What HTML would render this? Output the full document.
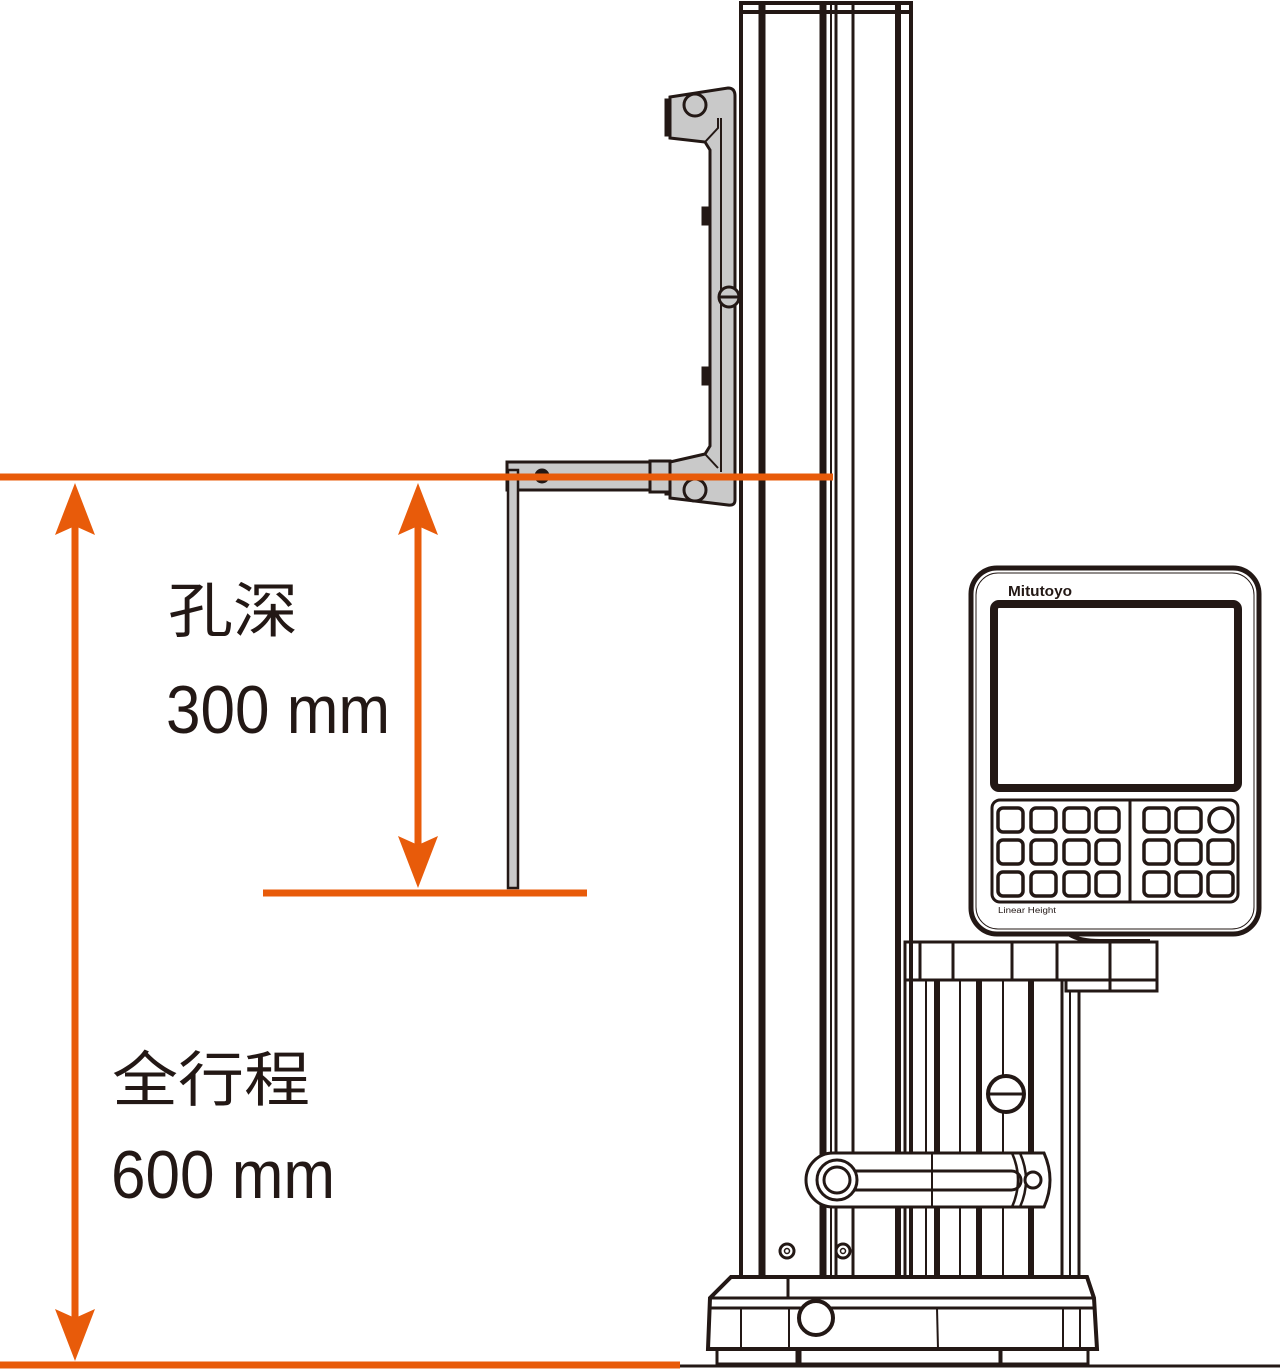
<!DOCTYPE html>
<html><head><meta charset="utf-8"><style>html,body{margin:0;padding:0;background:#fff}svg{display:block}</style></head><body>
<svg width="1280" height="1371" viewBox="0 0 1280 1371" xmlns="http://www.w3.org/2000/svg">
<g fill="none" stroke="#231815" stroke-width="3">
<!-- column -->
<rect x="741" y="3" width="170" height="1274" stroke-width="4"/>
<line x1="741" y1="12" x2="911" y2="12" stroke-width="4"/>
<line x1="762" y1="3" x2="762" y2="1277" stroke-width="7"/>
<line x1="823" y1="3" x2="823" y2="1277" stroke-width="7"/>
<line x1="831" y1="3" x2="831" y2="1277" stroke-width="2"/>
<line x1="836" y1="3" x2="836" y2="1277" stroke-width="3"/>
<line x1="853" y1="3" x2="853" y2="1277" stroke-width="3"/>
<line x1="898" y1="3" x2="898" y2="1277" stroke-width="6"/>
<!-- bracket -->
<path d="M670 97 L728 88 Q735 88 735 96 L735 500 Q735 506 728 505 L670 498 L670 462 L705 454 L710 446 L710 150 L705 142 L670 138 Z" fill="#c9c9c9" stroke-width="3"/>
<rect x="665" y="99" width="6" height="37" fill="#231815" stroke-width="1"/>
<rect x="665" y="463" width="6" height="32" fill="#231815" stroke-width="1"/>
<line x1="721" y1="118" x2="721" y2="472" stroke-width="2"/>
<path d="M705 142 L718 128 L718 118 M705 454 L718 468" stroke-width="2"/>
<circle cx="695" cy="105" r="11" fill="#c9c9c9"/>
<circle cx="695" cy="490" r="11" fill="#c9c9c9"/>
<ellipse cx="729" cy="297" rx="10" ry="10" fill="#c9c9c9"/>
<line x1="719" y1="297" x2="739" y2="297"/>
<rect x="703" y="208" width="6" height="16" fill="#231815"/>
<rect x="703" y="368" width="6" height="16" fill="#231815"/>
<!-- probe arm -->
<rect x="507" y="462" width="150" height="28" fill="#c9c9c9"/>
<rect x="650" y="461" width="20" height="31" fill="#c9c9c9"/>
<circle cx="542" cy="476" r="6" fill="#231815"/>
<rect x="508" y="470" width="10" height="418" fill="#c9c9c9" stroke-width="2.5"/>
<!-- display -->
<rect x="971" y="568" width="288" height="366" rx="26" stroke-width="5"/>
<rect x="976" y="573" width="278" height="356" rx="22" stroke-width="1"/>
<rect x="994" y="604" width="244" height="184" rx="5" stroke-width="8"/>
<rect x="992" y="800" width="246" height="102" rx="8" stroke-width="3"/>
<line x1="1130" y1="800" x2="1130" y2="902" stroke-width="3"/>
<g stroke-width="3.5">
<rect x="998" y="808" width="25" height="24" rx="5"/><rect x="1031" y="808" width="25" height="24" rx="5"/><rect x="1064" y="808" width="25" height="24" rx="5"/><rect x="1096" y="808" width="23" height="24" rx="5"/>
<rect x="998" y="840" width="25" height="24" rx="5"/><rect x="1031" y="840" width="25" height="24" rx="5"/><rect x="1064" y="840" width="25" height="24" rx="5"/><rect x="1096" y="840" width="23" height="24" rx="5"/>
<rect x="998" y="872" width="25" height="24" rx="5"/><rect x="1031" y="872" width="25" height="24" rx="5"/><rect x="1064" y="872" width="25" height="24" rx="5"/><rect x="1096" y="872" width="23" height="24" rx="5"/>
<rect x="1144" y="808" width="25" height="24" rx="5"/><rect x="1176" y="808" width="25" height="24" rx="5"/><circle cx="1221" cy="820" r="12"/>
<rect x="1144" y="840" width="25" height="24" rx="5"/><rect x="1176" y="840" width="25" height="24" rx="5"/><rect x="1208" y="840" width="25" height="24" rx="5"/>
<rect x="1144" y="872" width="25" height="24" rx="5"/><rect x="1176" y="872" width="25" height="24" rx="5"/><rect x="1208" y="872" width="25" height="24" rx="5"/>
</g>
<path d="M1070 935 Q1080 941 1100 941 L1150 941" stroke-width="4"/>
<!-- support block -->
<rect x="905" y="942" width="252" height="38" stroke-width="3"/>
<path d="M1066 980 L1066 991 L1157 991 L1157 980" stroke-width="3"/>
<line x1="920" y1="942" x2="920" y2="980"/><line x1="953" y1="942" x2="953" y2="980"/><line x1="1012" y1="942" x2="1012" y2="980"/><line x1="1057" y1="942" x2="1057" y2="980"/><line x1="1110" y1="942" x2="1110" y2="991"/>
<line x1="905" y1="980" x2="905" y2="1277"/>
<line x1="912" y1="980" x2="912" y2="1277" stroke-width="2"/>
<line x1="926" y1="980" x2="926" y2="1277" stroke-width="2"/>
<line x1="937" y1="980" x2="937" y2="1277" stroke-width="6"/>
<line x1="960" y1="980" x2="960" y2="1277" stroke-width="2"/>
<line x1="979" y1="980" x2="979" y2="1277" stroke-width="6"/>
<line x1="1003" y1="980" x2="1003" y2="1277" stroke-width="2"/>
<line x1="1031" y1="980" x2="1031" y2="1277" stroke-width="6"/>
<line x1="1062" y1="980" x2="1062" y2="1277" stroke-width="3"/>
<line x1="1070" y1="991" x2="1070" y2="1277" stroke-width="2"/>
<line x1="1079" y1="991" x2="1079" y2="1277" stroke-width="3"/>
<!-- screw -->
<circle cx="1006" cy="1094" r="18" fill="#fff" stroke-width="4"/>
<line x1="988" y1="1094" x2="1024" y2="1094"/>
<!-- lever -->
<path d="M833 1153 L1044 1153 Q1056 1180 1044 1207 L833 1207 A27 27 0 0 1 833 1153 Z" fill="#fff" stroke-width="3"/>
<rect x="838" y="1171" width="183" height="19" rx="9.5" stroke-width="3"/>
<circle cx="837" cy="1180" r="20" fill="#fff" stroke-width="3"/>
<circle cx="837" cy="1180" r="13" stroke-width="3"/>
<line x1="932" y1="1153" x2="932" y2="1207" stroke-width="2"/>
<path d="M1012 1153 Q1024 1180 1012 1207 M1020 1153 Q1032 1180 1020 1207" stroke-width="2.5"/>
<circle cx="1033" cy="1180" r="8" fill="#fff"/>
<circle cx="787" cy="1251" r="7" stroke-width="3"/><circle cx="787" cy="1251" r="2.5" stroke-width="1.5"/>
<circle cx="843" cy="1251" r="7" stroke-width="3"/><circle cx="843" cy="1251" r="2.5" stroke-width="1.5"/>
<!-- base -->
<path d="M731 1277 L1087 1277 L1094 1298 L1097 1349 L708 1349 L710 1298 Z" fill="#fff" stroke-width="4"/>
<line x1="710" y1="1298" x2="1094" y2="1298" stroke-width="3"/>
<line x1="710" y1="1308" x2="1096" y2="1308" stroke-width="3"/>
<line x1="788" y1="1277" x2="788" y2="1298"/>
<line x1="741" y1="1308" x2="741" y2="1349" stroke-width="2"/>
<line x1="789" y1="1308" x2="789" y2="1349" stroke-width="2"/>
<line x1="937" y1="1308" x2="938" y2="1349" stroke-width="2"/>
<line x1="1063" y1="1308" x2="1063" y2="1349" stroke-width="2"/>
<line x1="1080" y1="1308" x2="1080" y2="1349" stroke-width="2"/>
<circle cx="816" cy="1318" r="17" fill="#fff" stroke-width="4"/>
<rect x="717" y="1349" width="80" height="15" stroke-width="3"/>
<rect x="800" y="1349" width="200" height="15" stroke-width="3"/>
<rect x="1001" y="1349" width="87" height="15" stroke-width="3"/>
<line x1="680" y1="1366" x2="1280" y2="1366" stroke-width="3"/>
</g>
<!-- orange dims -->
<g stroke="#e85b0a" stroke-width="7" fill="#e85b0a">
<line x1="0" y1="477" x2="833" y2="477"/>
<line x1="0" y1="1365" x2="680" y2="1365"/>
<line x1="263" y1="893" x2="587" y2="893"/>
<line x1="75" y1="520" x2="75" y2="1330"/>
<line x1="418" y1="520" x2="418" y2="855"/>
</g>
<g fill="#e85b0a">
<path d="M75 483 L95 535 L75 526 L55 535 Z"/>
<path d="M75 1361 L95 1309 L75 1318 L55 1309 Z"/>
<path d="M418 483 L438 535 L418 526 L398 535 Z"/>
<path d="M418 888 L438 836 L418 845 L398 836 Z"/>
</g>
<g fill="#231815" font-family="'Liberation Sans','Noto Sans CJK SC',sans-serif">
<text x="168" y="632" font-size="60" textLength="130" lengthAdjust="spacingAndGlyphs">孔深</text>
<text x="166" y="733" font-size="68" textLength="224" lengthAdjust="spacingAndGlyphs">300 mm</text>
<text x="112" y="1101" font-size="60" textLength="198" lengthAdjust="spacingAndGlyphs">全行程</text>
<text x="111" y="1198" font-size="68" textLength="224" lengthAdjust="spacingAndGlyphs">600 mm</text>
<text x="1008" y="596" font-size="15" font-weight="bold" textLength="64" lengthAdjust="spacingAndGlyphs">Mitutoyo</text>
<text x="998" y="913" font-size="8" textLength="58" lengthAdjust="spacingAndGlyphs">Linear Height</text>
</g>
</svg>
</body></html>
